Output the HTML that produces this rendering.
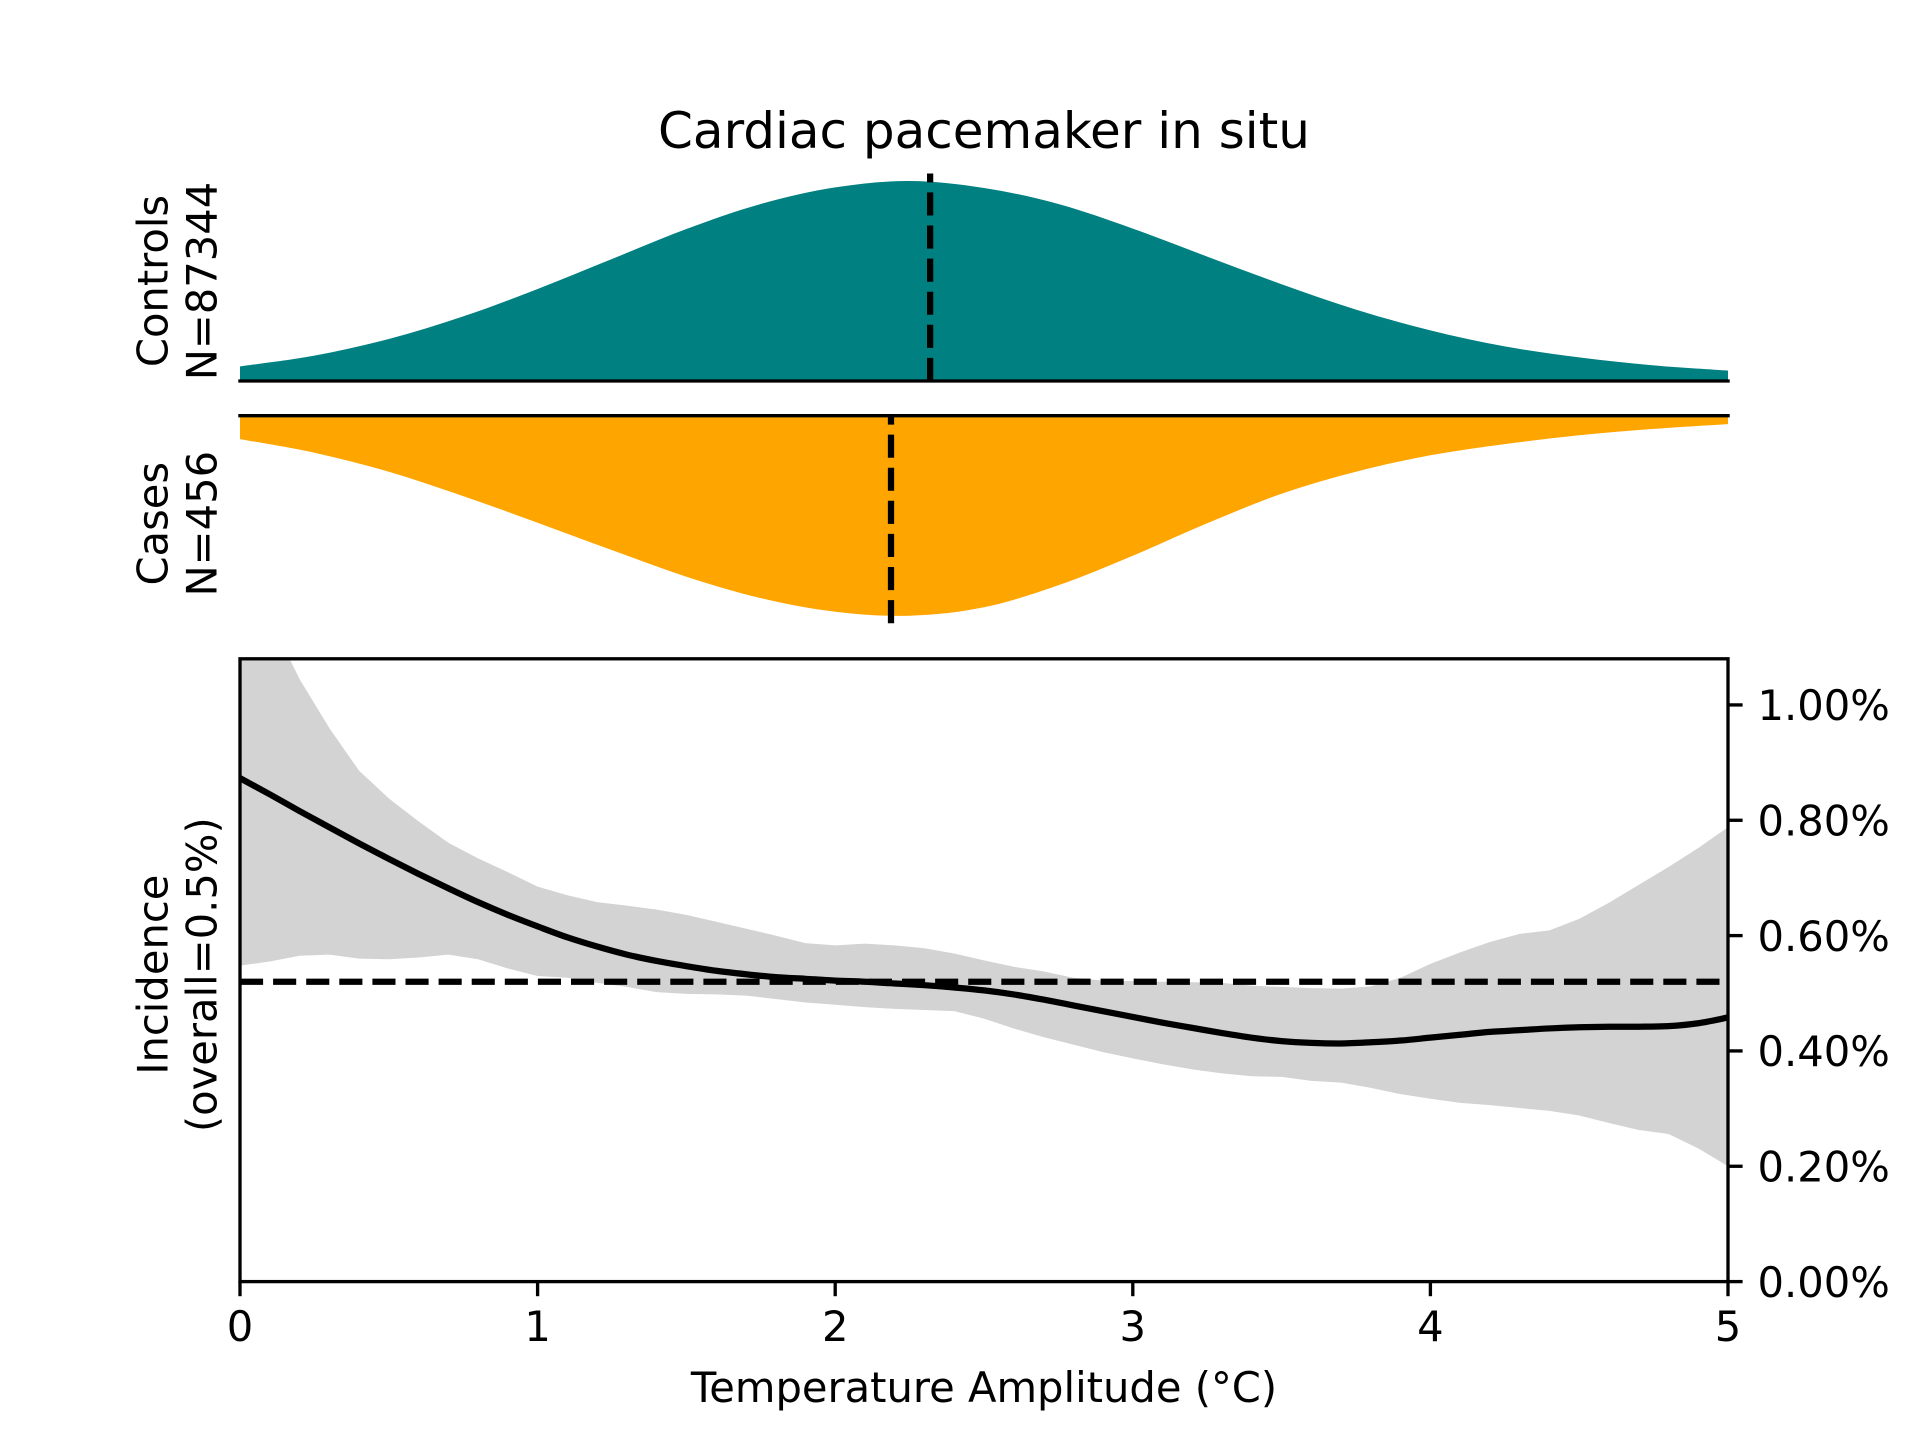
<!DOCTYPE html>
<html lang="en">
<head>
<meta charset="utf-8">
<title>Cardiac pacemaker in situ</title>
<style>
html,body{margin:0;padding:0;background:#fff;width:1920px;height:1440px;overflow:hidden}
svg{display:block}
text{font-family:"DejaVu Sans","Liberation Sans",sans-serif;fill:#000}
</style>
</head>
<body>
<svg id="chart" xmlns="http://www.w3.org/2000/svg" width="1920" height="1440" viewBox="0 0 1920 1440">
<rect width="1920" height="1440" fill="#fff"/>
<defs><clipPath id="clipInc"><rect x="240" y="658.8" width="1488" height="622.8"/></clipPath></defs>
<g id="controlsPanel"></g>
<g id="casesPanel"></g>
<g id="incidencePanel"></g>
<text x="984" y="148" font-size="50" text-anchor="middle">Cardiac pacemaker in situ</text>
<text transform="translate(167.5,281) rotate(-90)" font-size="41.67" text-anchor="middle">Controls</text>
<text transform="translate(216.5,281) rotate(-90)" font-size="41.67" text-anchor="middle">N=87344</text>
<text transform="translate(167.5,523.7) rotate(-90)" font-size="41.67" text-anchor="middle">Cases</text>
<text transform="translate(216.5,523.7) rotate(-90)" font-size="41.67" text-anchor="middle">N=456</text>
<text transform="translate(167.5,974.7) rotate(-90)" font-size="41.67" text-anchor="middle">Incidence</text>
<text transform="translate(216.5,974.7) rotate(-90)" font-size="41.67" text-anchor="middle">(overall=0.5%)</text>
<text x="984" y="1402" font-size="41.67" text-anchor="middle">Temperature Amplitude (°C)</text>
</svg>
<script>
// ---- Chart data ----
const densityX = [0,0.25,0.5,0.75,1,1.25,1.5,1.75,2,2.25,2.5,2.75,3,3.25,3.5,3.75,4,4.25,4.5,4.75,5];
const controlsDensity = [0.073,0.127,0.21,0.323,0.46,0.61,0.76,0.885,0.968,1.0,0.965,0.885,0.762,0.622,0.484,0.357,0.253,0.173,0.118,0.078,0.052];
const casesDensity = [0.117,0.185,0.28,0.402,0.535,0.672,0.805,0.912,0.98,1.0,0.958,0.848,0.7,0.538,0.39,0.28,0.198,0.142,0.098,0.066,0.042];
const controlsMean = 2.319;
const casesMean = 2.1875;
const overallIncidence = 0.52;
const incidenceX = [0,0.1,0.2,0.3,0.4,0.5,0.6,0.7,0.8,0.9,1,1.1,1.2,1.3,1.4,1.5,1.6,1.7,1.8,1.9,2,2.1,2.2,2.3,2.4,2.5,2.6,2.7,2.8,2.9,3,3.1,3.2,3.3,3.4,3.5,3.6,3.7,3.8,3.9,4,4.1,4.2,4.3,4.4,4.5,4.6,4.7,4.8,4.9,5];
const incidenceMean = [0.873,0.845,0.816,0.788,0.76,0.733,0.707,0.682,0.658,0.636,0.616,0.597,0.581,0.567,0.556,0.547,0.539,0.533,0.528,0.525,0.522,0.52,0.517,0.514,0.51,0.505,0.498,0.489,0.479,0.469,0.459,0.449,0.44,0.431,0.423,0.417,0.414,0.413,0.415,0.418,0.423,0.428,0.433,0.436,0.439,0.441,0.442,0.442,0.443,0.448,0.458];
const incidenceUpper = [1.3,1.15,1.045,0.96,0.886,0.838,0.798,0.761,0.734,0.71,0.685,0.67,0.658,0.652,0.645,0.636,0.624,0.612,0.6,0.587,0.583,0.586,0.583,0.578,0.569,0.557,0.546,0.538,0.527,0.522,0.521,0.52,0.519,0.518,0.513,0.511,0.509,0.508,0.512,0.527,0.551,0.571,0.589,0.603,0.609,0.629,0.657,0.688,0.719,0.752,0.788];
const incidenceLower = [0.548,0.555,0.565,0.567,0.56,0.559,0.562,0.567,0.559,0.543,0.53,0.527,0.518,0.511,0.502,0.499,0.498,0.496,0.49,0.484,0.48,0.476,0.473,0.471,0.469,0.456,0.439,0.424,0.411,0.398,0.387,0.377,0.368,0.361,0.356,0.355,0.348,0.345,0.336,0.325,0.317,0.31,0.306,0.301,0.296,0.288,0.275,0.263,0.256,0.231,0.2];
const xTicks = [0,1,2,3,4,5];
const yTicks = [0,0.2,0.4,0.6,0.8,1.0];
const yTickLabels = ["0.00%","0.20%","0.40%","0.60%","0.80%","1.00%"];

// ---- Axis functions ----
const AX_LEFT = 240, AX_RIGHT = 1728;
const CTRL_BASE = 381, CASE_BASE = 415.7, DENS_H = 207.5, DENS_MAX = 1.0375;
const INC_TOP = 658.8, INC_BOTTOM = 1281.6, INC_MAX = 1.08;
function xScale(v){ return AX_LEFT + (AX_RIGHT - AX_LEFT) * v / 5; }
function yControls(v){ return CTRL_BASE - DENS_H * v / DENS_MAX; }
function yCases(v){ return CASE_BASE + DENS_H * v / DENS_MAX; }
function yIncidence(v){ return INC_BOTTOM - (INC_BOTTOM - INC_TOP) * v / INC_MAX; }

const NS = 'http://www.w3.org/2000/svg';
function mk(parent, tag, attrs, txt){
  const el = document.createElementNS(NS, tag);
  for (const k in attrs) el.setAttribute(k, attrs[k]);
  if (txt !== undefined) el.textContent = txt;
  parent.appendChild(el);
  return el;
}
function f(n){ return n.toFixed(2); }
// smooth curve through sampled values (returns segments starting with a line-to the first sample)
function smoothPath(xs, ys, xFn, yFn){
  const p = xs.map((x, i) => [xFn(x), yFn(ys[i])]);
  let d = 'L' + f(p[0][0]) + ' ' + f(p[0][1]);
  for (let i = 0; i < p.length - 1; i++){
    const a = p[Math.max(i - 1, 0)], b = p[i], c = p[i + 1], e = p[Math.min(i + 2, p.length - 1)];
    d += 'C' + f(b[0] + (c[0] - a[0]) / 6) + ' ' + f(b[1] + (c[1] - a[1]) / 6) + ' ' +
         f(c[0] - (e[0] - b[0]) / 6) + ' ' + f(c[1] - (e[1] - b[1]) / 6) + ' ' + f(c[0]) + ' ' + f(c[1]);
  }
  return d;
}
function linePoints(xs, ys){
  return xs.map((x, i) => f(xScale(x)) + ' ' + f(yIncidence(ys[i])));
}

const DASH = '23.1 10';
const controlsPanel = document.getElementById('controlsPanel');
const casesPanel = document.getElementById('casesPanel');
const incidencePanel = document.getElementById('incidencePanel');

// ---- Controls density ----
const ctrlArea = mk(controlsPanel, 'path', {
  d: 'M' + f(xScale(0)) + ' ' + CTRL_BASE + smoothPath(densityX, controlsDensity, xScale, yControls) + 'L' + f(xScale(5)) + ' ' + CTRL_BASE + 'Z',
  fill: '#008080'
});


const ctrlSpine = mk(controlsPanel, 'line', {x1: AX_LEFT - 1.7, x2: AX_RIGHT + 1.7, y1: CTRL_BASE, y2: CTRL_BASE, stroke: '#000', 'stroke-width': 3.33});


const ctrlMean = mk(controlsPanel, 'line', {x1: xScale(controlsMean), x2: xScale(controlsMean), y1: CTRL_BASE, y2: CTRL_BASE - DENS_H, stroke: '#000', 'stroke-width': 6.25, 'stroke-dasharray': DASH});



// ---- Cases density ----
const caseArea = mk(casesPanel, 'path', {
  d: 'M' + f(xScale(0)) + ' ' + CASE_BASE + smoothPath(densityX, casesDensity, xScale, yCases) + 'L' + f(xScale(5)) + ' ' + CASE_BASE + 'Z',
  fill: '#ffa500'
});


const caseSpine = mk(casesPanel, 'line', {x1: AX_LEFT - 1.7, x2: AX_RIGHT + 1.7, y1: CASE_BASE, y2: CASE_BASE, stroke: '#000', 'stroke-width': 3.33});


const caseMean = mk(casesPanel, 'line', {x1: xScale(casesMean), x2: xScale(casesMean), y1: CASE_BASE + DENS_H, y2: CASE_BASE, stroke: '#000', 'stroke-width': 6.25, 'stroke-dasharray': DASH});



// ---- Incidence panel ----
const plotGroup = mk(incidencePanel, 'g', {'clip-path': 'url(#clipInc)'});


const bandPts = linePoints(incidenceX, incidenceUpper).concat(linePoints(incidenceX, incidenceLower).reverse());
const band = mk(plotGroup, 'path', {d: 'M' + bandPts.join('L') + 'Z', fill: '#d3d3d3'});


const meanLine = mk(plotGroup, 'path', {d: 'M' + smoothPath(incidenceX, incidenceMean, xScale, yIncidence).slice(1), fill: 'none', stroke: '#000', 'stroke-width': 6.25, 'stroke-linejoin': 'round'});


const refLine = mk(plotGroup, 'line', {x1: xScale(0), x2: xScale(5), y1: yIncidence(overallIncidence), y2: yIncidence(overallIncidence), stroke: '#000', 'stroke-width': 6.25, 'stroke-dasharray': DASH});


const frame = mk(incidencePanel, 'rect', {x: AX_LEFT, y: INC_TOP, width: AX_RIGHT - AX_LEFT, height: INC_BOTTOM - INC_TOP, fill: 'none', stroke: '#000', 'stroke-width': 3.33});



xTicks.forEach(function(t){
  const x = xScale(t);
  const tick = mk(incidencePanel, 'line', {x1: x, x2: x, y1: INC_BOTTOM, y2: INC_BOTTOM + 14.6, stroke: '#000', 'stroke-width': 3.33});
  
  
  const lab = mk(incidencePanel, 'text', {x: x, y: 1341, 'font-size': 41.67, 'text-anchor': 'middle'}, String(t));
  
  
});
yTicks.forEach(function(t, i){
  const y = yIncidence(t);
  const tick = mk(incidencePanel, 'line', {x1: AX_RIGHT, x2: AX_RIGHT + 14.6, y1: y, y2: y, stroke: '#000', 'stroke-width': 3.33});
  
  
  const lab = mk(incidencePanel, 'text', {x: 1757.5, y: y + 15.2, 'font-size': 41.67}, yTickLabels[i]);
  
  
});
</script>
</body>
</html>
